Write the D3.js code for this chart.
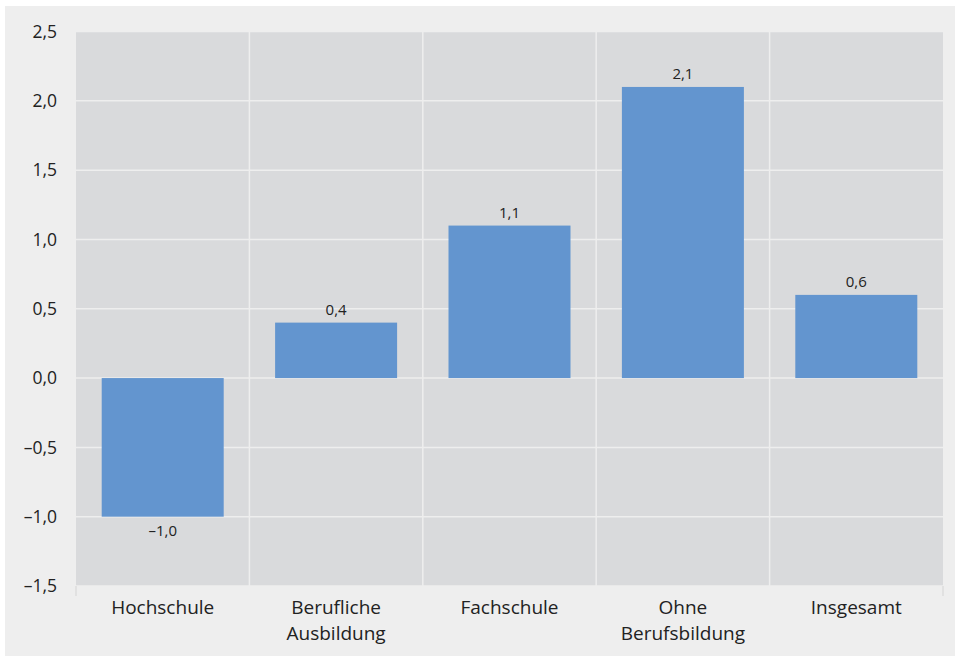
<!DOCTYPE html>
<html>
<head>
<meta charset="utf-8">
<script src="https://cdn.jsdelivr.net/npm/d3@7"></script>
<style>
  body { margin: 0; background: #fff; }
  svg text { font-family: "Open Sans", "DejaVu Sans", sans-serif; fill: #222; }
</style>
</head>
<body>
<svg id="chart" width="955" height="656"></svg>
<script>
// data
var categories = [["Hochschule"], ["Berufliche", "Ausbildung"], ["Fachschule"], ["Ohne", "Berufsbildung"], ["Insgesamt"]];
var values = [-1.0, 0.4, 1.1, 2.1, 0.6];
var yTicks = [-1.5, -1.0, -0.5, 0.0, 0.5, 1.0, 1.5, 2.0, 2.5];

var W = 955, H = 656;
var margin = {left: 76, right: 12, top: 31.5, bottom: 70};

// comma decimals, en dash for minus
function fmt(v) {
    var s = Math.abs(v).toFixed(1).replace(".", ",");
    return (v < 0 ? "\u2013" : "") + s;
}

var svg = d3.select("#chart");

svg.append("rect")
    .attr("x", 5).attr("y", 6)
    .attr("width", W - 5).attr("height", H - 6)
    .attr("fill", "#eeeeee");

var x = d3.scaleBand()
    .domain(d3.range(categories.length))
    .range([margin.left, W - margin.right])
    .paddingInner(0)
    .paddingOuter(0);

var y = d3.scaleLinear()
    .domain([-1.5, 2.5])
    .range([H - margin.bottom, margin.top]);

// plot background
svg.append("rect")
    .attr("x", margin.left).attr("y", y(2.5))
    .attr("width", x.range()[1] - margin.left)
    .attr("height", y(-1.5) - y(2.5))
    .attr("fill", "#d9dadc");

// horizontal gridlines + left ticks
svg.append("g")
    .selectAll("line")
    .data(yTicks)
    .join("line")
    .attr("x1", margin.left - 11)
    .attr("x2", x.range()[1])
    .attr("y1", function(d){ return y(d); })
    .attr("y2", function(d){ return y(d); })
    .attr("stroke", "#eeeeee")
    .attr("stroke-width", 1.5);

// vertical band separators + bottom ticks
var bounds = d3.range(categories.length + 1).map(function(i){
    return i < categories.length ? x(i) : x.range()[1];
});
svg.append("g")
    .selectAll("line")
    .data(bounds)
    .join("line")
    .attr("x1", function(d){ return d; })
    .attr("x2", function(d){ return d; })
    .attr("y1", function(d, i){ return (i == 0 || i == bounds.length - 1) ? y(-1.5) : y(2.5); })
    .attr("y2", y(-1.5) + 10)
    .attr("stroke", function(d, i){ return (i == 0 || i == bounds.length - 1) ? "#dddddd" : "#eeeeee"; })
    .attr("stroke-width", 1.5);

// y labels
svg.append("g")
    .selectAll("text")
    .data(yTicks)
    .join("text")
    .attr("x", 57)
    .attr("y", function(d){ return y(d); })
    .attr("dy", "0.35em")
    .attr("text-anchor", "end")
    .attr("font-size", 17.5)
    .text(fmt);

// bars
var barW = 122;
svg.append("g")
    .selectAll("rect")
    .data(values)
    .join("rect")
    .attr("x", function(d, i){ return x(i) + x.bandwidth() / 2 - barW / 2; })
    .attr("width", barW)
    .attr("y", function(d){ return y(Math.max(0, d)); })
    .attr("height", function(d){ return Math.abs(y(d) - y(0)); })
    .attr("fill", "#6395cf");

// value labels
svg.append("g")
    .selectAll("text")
    .data(values)
    .join("text")
    .attr("x", function(d, i){ return x(i) + x.bandwidth() / 2; })
    .attr("y", function(d){ return d >= 0 ? y(d) - 8 : y(d) + 19; })
    .attr("text-anchor", "middle")
    .attr("font-size", 15)
    .text(fmt);

// category labels
svg.append("g")
    .selectAll("text")
    .data(categories)
    .join("text")
    .attr("x", function(d, i){ return x(i) + x.bandwidth() / 2; })
    .attr("y", 614)
    .attr("text-anchor", "middle")
    .attr("font-size", 19)
    .each(function(d){
        var t = d3.select(this);
        d.forEach(function(line, j){
            t.append("tspan")
                .attr("x", t.attr("x"))
                .attr("dy", j == 0 ? 0 : 26)
                .text(line);
        });
    });
</script>
</body>
</html>
